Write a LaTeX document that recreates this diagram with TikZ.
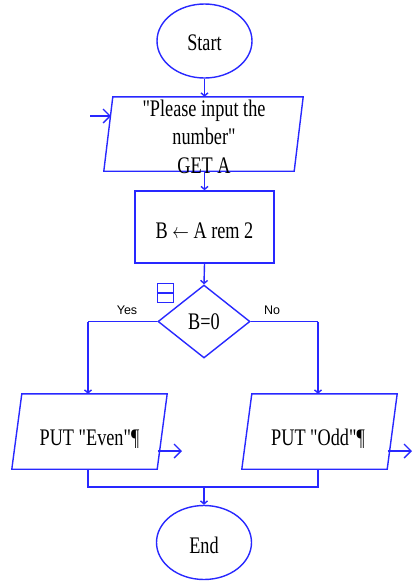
\documentclass[tikz,border=0pt]{standalone}
\usepackage{fontspec}
\setmainfont{Liberation Serif}[Ligatures=TeXOff]
\newfontfamily\lblfont{Liberation Sans}
\usetikzlibrary{shapes.geometric,arrows.meta}
\definecolor{fcblue}{RGB}{40,40,255}
\newcommand{\tx}[2][4pt]{\raisebox{-#1}[\height][\depth]{\scalebox{0.96}[1.25]{\begin{tabular}{@{}c@{}}#2\end{tabular}}}}
\newcommand{\parabox}[2]{\draw[flow] ([xshift=#2]#1.north west) -- ([xshift=#2]#1.north east)
  -- ([xshift=-#2]#1.south east) -- ([xshift=-#2]#1.south west) -- cycle;}
\tikzset{
  every node/.style={font=\fontsize{19}{23}\selectfont},
  base/.style={draw=fcblue, line width=1.4pt, inner sep=0pt},
  term/.style={base, ellipse, minimum width=95pt, minimum height=74pt},
  io/.style={inner sep=0pt, rectangle},
  proc/.style={base, rectangle, minimum width=139pt, minimum height=72pt},
  dec/.style={base, diamond, minimum width=92pt, minimum height=73pt, aspect=1.26},
  flow/.style={draw=fcblue, line width=1.4pt, line join=miter},
  arr/.style={flow, -{Straight Barb[length=3pt,width=7pt]}},
  bigarr/.style={flow, -{Straight Barb[length=7pt,width=14pt]}},
  lbl/.style={font=\lblfont\fontsize{12.5}{14}\selectfont},
}
\begin{document}
\begin{tikzpicture}[x=1pt,y=-1pt]
\useasboundingbox (0,0) rectangle (414,584);
\node[term] (start) at (204.5,41) {\tx{Start}};
\node[io, minimum width=190pt, minimum height=74pt] (in) at (203.5,134) {};
\parabox{in}{4.5pt}
\node (intext) at (204,139) {\tx[0pt]{"Please input the\\number"\\GET A}};
\node[proc] (calc) at (204.5,227) {\tx[6pt]{B $\leftarrow$ A rem 2}};
\node[dec] (test) at (204,321.5) {\tx[2pt]{B=0}};
\node[io, minimum width=145pt, minimum height=75pt] (even) at (89.5,431.5) {};
\parabox{even}{5pt}
\node (eventext) at (89.5,440) {\tx[0pt]{PUT "Even"¶}};
\node[io, minimum width=145pt, minimum height=75pt] (odd) at (319.5,431.5) {};
\parabox{odd}{5pt}
\node (oddtext) at (318,440) {\tx[0pt]{PUT "Odd"¶}};
\node[term] (end) at (204,542.5) {\tx[5pt]{End}};
% small icon
\node[draw=fcblue, line width=1.1pt, minimum width=16pt, minimum height=19pt, inner sep=0pt] (icon) at (165.5,293) {};
\draw[fcblue, line width=1.1pt] (icon.west) -- (icon.east);
% labels
\node[lbl] (yes) at (127,310) {Yes};
\node[lbl] (no) at (272,310) {No};
% coordinates
\coordinate (inL) at (90,116);
\coordinate (inLe) at (111,116);
\coordinate (lc) at (88,321.5);
\coordinate (rc) at (318,321.5);
\coordinate (mL) at (88,487);
\coordinate (mR) at (318,487);
\coordinate (mM) at (204,487);
\coordinate (eO) at (182,451);
\coordinate (eS) at (157.5,451);
\coordinate (oO) at (412,451);
\coordinate (oS) at (387.5,451);
% connectors
\draw[arr] (start.south) -- (start.south |- in.north);
\draw[bigarr] (inL) -- (inLe);
\draw[arr] (in.south -| calc.north) -- (calc.north);
\draw[arr] (calc.south) -- (test.north);
\draw[flow] (test.west) -- (lc);
\draw[arr] (lc) -- (lc |- even.north);
\draw[flow] (test.east) -- (rc);
\draw[arr] (rc) -- (rc |- odd.north);
\draw[bigarr] (eS) -- (eO);
\draw[bigarr] (oS) -- (oO);
\draw[flow] (mL |- even.south) -- (mL) -- (mR) -- (mR |- odd.south);
\draw[arr] (mM) -- (end.north);
\end{tikzpicture}
\end{document}
